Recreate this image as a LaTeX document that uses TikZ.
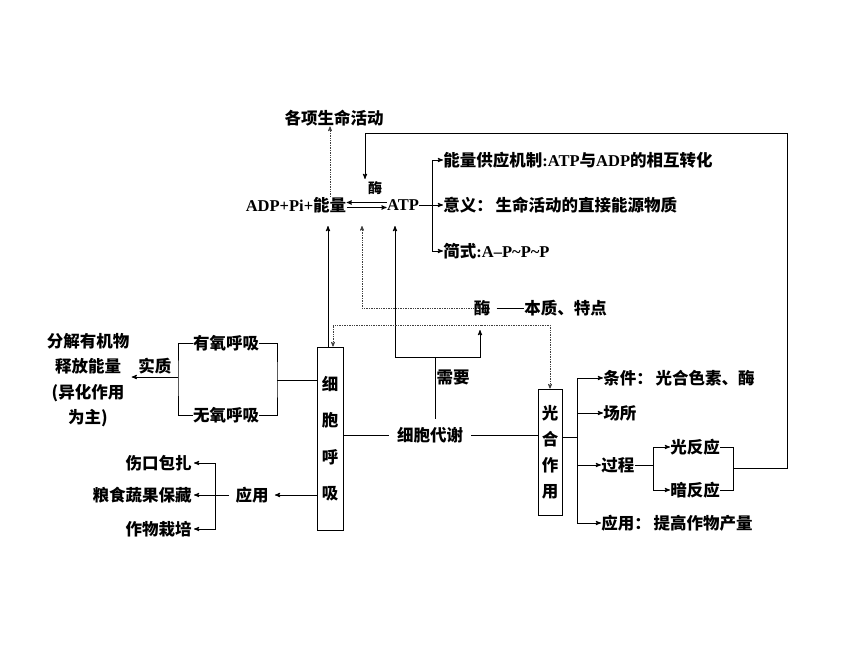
\documentclass[tikz,border=0pt]{standalone}
\usepackage{fontspec}
\setmainfont{Liberation Serif}
\newfontfamily\cjk{Noto Sans CJK SC}
\newcommand\zh[1]{{\cjk #1}}
\usetikzlibrary{arrows}

\begin{document}
\begin{tikzpicture}[x=1pt,y=-1pt,>=stealth',line width=0.9pt,
  every node/.style={font=\fontsize{16.5}{20}\selectfont\bfseries,inner sep=0pt},
  box/.style={draw,minimum width=26pt,align=center,font=\cjk\bfseries\fontsize{16.5}{36.5}\selectfont},
  dots/.style={densely dotted,line width=0.7pt,draw=black!75}]
  \useasboundingbox (0,0) rectangle (860,645);
  \node (life) at (334,118) {\zh{各项生命活动}};
  \node (adp) at (296,205) {ADP+Pi+\zh{能量}};
  \node (atp) at (403,205) {ATP};
  \node[font=\cjk\bfseries\fontsize{14}{16}\selectfont] (enz1) at (375,188) {酶};
  \node[anchor=west] (f1) at (443,160) {\zh{能量供应机制}:ATP\zh{与}ADP\zh{的相互转化}};
  \node[anchor=west] (f2) at (443,205) {\zh{意义：\,生命活动的直接能源物质}};
  \node[anchor=west] (f3) at (443,251) {\zh{简式}:A–P\textasciitilde P\textasciitilde P};
  \node (enz2) at (482,308) {\zh{酶}};
  \node[anchor=west] (prop) at (524,308) {\zh{本质、特点}};
  \node[box,minimum height=183pt] (resp) at (330,438.5) {细\\胞\\呼\\吸};
  \node (aero) at (226,343) {\zh{有氧呼吸}};
  \node (anaero) at (226,415) {\zh{无氧呼吸}};
  \node[align=center,font=\cjk\bfseries\fontsize{16.5}{25.5}\selectfont,inner sep=2pt] (ess) at (88,380) {分解有机物\\释放能量\\(异化作用\\为主)};
  \node[inner sep=8pt] (metab) at (430,435) {\zh{细胞代谢}};
  \node (need) at (453,377) {\zh{需要}};
  \node[box,minimum width=24pt,minimum height=126pt,font=\cjk\bfseries\fontsize{16.5}{26}\selectfont] (photo) at (550,452) {光\\合\\作\\用};
  \node[anchor=west] (cond) at (603,378) {\zh{条件：\,光合色素、酶}};
  \node[anchor=west] (place) at (603,413) {\zh{场所}};
  \node[anchor=west] (proc) at (601,465) {\zh{过程}};
  \node[anchor=west] (light) at (670,447) {\zh{光反应}};
  \node[anchor=west] (dark) at (670,490) {\zh{暗反应}};
  \node[anchor=west] (use2) at (601,523) {\zh{应用：\,提高作物产量}};
  \node[inner sep=6pt] (use1) at (252,495) {\zh{应用}};
  \node[anchor=east,inner sep=2pt] (a1) at (194,463) {\zh{伤口包扎}};
  \node[anchor=east,inner sep=2pt] (a2) at (194,495) {\zh{粮食蔬果保藏}};
  \node[anchor=east,inner sep=2pt] (a3) at (194,529) {\zh{作物栽培}};
  \coordinate (br1) at (432,205);
  \coordinate (rx) at (362,226);
  \coordinate (ed) at (482,325);
  \coordinate (nd) at (435,357);
  \coordinate (ne) at (480,330);
  \coordinate (cat) at (365,179);
  \coordinate (rb) at (277,380);
  \coordinate (lb) at (178,377);
  \coordinate (ub) at (215,495);
  \coordinate (pb) at (577,437);
  \coordinate (qb) at (653,465);
  \coordinate (lr) at (733,468);
  \draw[dots,->] (adp.north -| 330,0) -- (life.south -| 330,0);
  \draw[->] ([yshift=2.5pt]atp.west) -- ([yshift=2.5pt]adp.east);
  \draw[->] ([yshift=-2.5pt]adp.east) -- ([yshift=-2.5pt]atp.west);
  \draw (atp.east) -- (br1);
  \draw[->] (br1) |- (f1.west);
  \draw[->] (br1) -- (f2.west);
  \draw[->] (br1) |- (f3.west);
  \draw[->] (lr) -| (787,133) -| (cat);
  \draw[->] ([xshift=-2pt]resp.north) -- ([xshift=-2pt]resp.north |- rx);
  \draw[->] (nd) -| ([xshift=-8pt]atp.south |- rx);
  \draw[->] (nd) -| (ne);
  \draw (nd |- metab.north) -- (nd);
  \draw[shorten <=6pt] (enz2.east) -- (prop.west);
  \draw[dots,->] (enz2.west) -| (rx);
  \draw[dots,->] (ed) -| ([xshift=3pt]resp.north);
  \draw[dots,->] (ed) -| (photo.north);
  \draw (metab.west) -- (metab.west -| resp.east);
  \draw (metab.east) -- (metab.east -| photo.west);
  \draw (resp.west |- rb) -- (rb);
  \draw (aero.east) -| (rb) |- (anaero.east);
  \draw (aero.west) -| (lb) |- (anaero.west);
  \draw[->] (lb) -- node[above=2pt] {\zh{实质}} (lb -| ess.east);
  \draw[->] (resp.west |- use1) -- (use1.east);
  \draw (use1.west) -- (ub);
  \draw[->] (ub) -- (a2.east);
  \draw[->] (ub) |- (a1.east);
  \draw[->] (ub) |- (a3.east);
  \draw (photo.east |- pb) -- (pb);
  \draw[->] (pb) |- (cond.west);
  \draw[->] (pb) |- (place.west);
  \draw[->] (pb) |- (proc.west);
  \draw[->] (pb) |- (use2.west);
  \draw (proc.east) -- (qb);
  \draw[->] (qb) |- (light.west);
  \draw[->] (qb) |- (dark.west);
  \draw (light.east) -| (lr);
  \draw (dark.east) -| (lr);
\end{tikzpicture}
\end{document}
